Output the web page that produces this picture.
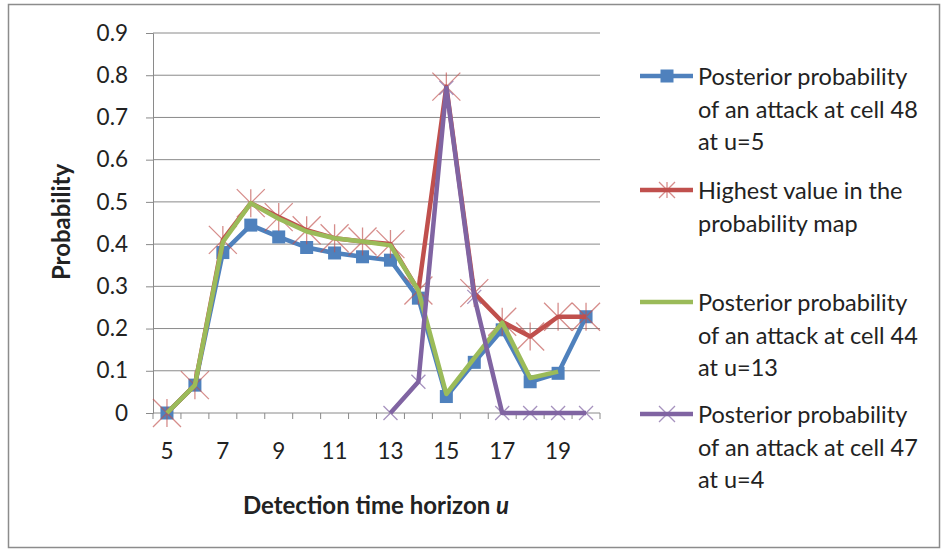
<!DOCTYPE html>
<html>
<head>
<meta charset="utf-8">
<script src="https://cdn.jsdelivr.net/npm/d3@7"></script>
<style>
  body { margin: 0; background: #fff; }
  text { font-family: Lato, "Open Sans", sans-serif; fill: #222; }
</style>
</head>
<body>
<div id="root"></div>
<script>
// Chart size
const width = 946;
const height = 552;
const margin = { top: 33, right: 346, bottom: 139, left: 153 };

// Data
const horizons = [5, 6, 7, 8, 9, 10, 11, 12, 13, 14, 15, 16, 17, 18, 19, 20];
const cell48 = [0, 0.066, 0.38, 0.445, 0.417, 0.392, 0.379, 0.37, 0.362, 0.272, 0.039, 0.12, 0.197, 0.074, 0.094, 0.228];
const highest = [0, 0.066, 0.41, 0.497, 0.464, 0.433, 0.414, 0.406, 0.40, 0.29, 0.773, 0.284, 0.216, 0.181, 0.228, 0.228];
const cell44 = [0, 0.066, 0.405, 0.497, 0.46, 0.43, 0.414, 0.406, 0.397, 0.29, 0.045, 0.13, 0.214, 0.083, 0.098, null];
const cell47 = [null, null, null, null, null, null, null, null, 0, 0.074, 0.77, 0.275, 0, 0, 0, 0];
const yTicks = [0, 0.1, 0.2, 0.3, 0.4, 0.5, 0.6, 0.7, 0.8, 0.9];
const xLabels = [5, 7, 9, 11, 13, 15, 17, 19];

const series = [
  { name: ["Posterior probability", "of an attack at cell 48", "at u=5"], values: cell48, color: "#4f81bd", marker: "square" },
  { name: ["Highest value in the", "probability map"], values: highest, color: "#c0504d", marker: "star" },
  { name: ["Posterior probability", "of an attack at cell 44", "at u=13"], values: cell44, color: "#9bbb59", marker: "none" },
  { name: ["Posterior probability", "of an attack at cell 47", "at u=4"], values: cell47, color: "#8064a2", marker: "cross" }
];

const svg = d3
  .select("#root")
  .append("svg")
  .attr("width", width)
  .attr("height", height);

// outer frame
svg
  .append("rect")
  .attr("x", 8.5)
  .attr("y", 4.5)
  .attr("width", 931)
  .attr("height", 543)
  .attr("fill", "#fff")
  .attr("stroke", "#8c8c8c")
  .attr("stroke-width", 1.5);

// Scales
const xScale = d3
  .scaleBand()
  .domain(horizons)
  .range([margin.left, width - margin.right])
  .padding(0);

const yScale = d3
  .scaleLinear()
  .domain([0, 0.9])
  .range([height - margin.bottom, margin.top]);

const xc = d => xScale(d) + xScale.bandwidth() / 2;

// Gridlines
svg
  .append("g")
  .selectAll("line")
  .data(yTicks.slice(1))
  .enter()
  .append("line")
  .attr("x1", margin.left)
  .attr("x2", width - margin.right)
  .attr("y1", d => yScale(d))
  .attr("y2", d => yScale(d))
  .attr("stroke", "#8a8a8a")
  .attr("stroke-width", 1);

// Y axis
const yAxis = d3
  .axisLeft(yScale)
  .tickValues(yTicks)
  .tickFormat(d => (d === 0 ? "0" : d3.format(".1f")(d)))
  .tickSize(7)
  .tickPadding(18);

const gy = svg
  .append("g")
  .attr("class", "y-axis")
  .attr("transform", "translate(" + margin.left + ",0)")
  .call(yAxis);
gy.select(".domain").attr("stroke", "#8a8a8a");
gy.selectAll(".tick line").attr("stroke", "#8a8a8a");
gy.selectAll("text").style("font-size", "22.5px").attr("fill", "#222");

// X axis: labels on every other category, ticks on category edges
const xAxis = d3
  .axisBottom(xScale)
  .tickValues(xLabels)
  .tickSize(0)
  .tickPadding(30);

const gx = svg
  .append("g")
  .attr("class", "x-axis")
  .attr("transform", "translate(0," + (height - margin.bottom) + ")")
  .call(xAxis);
gx.select(".domain").remove();
gx.selectAll("text").style("font-size", "22.5px").attr("fill", "#222");

const edges = horizons.map(d => xScale(d)).concat([xScale(horizons[horizons.length - 1]) + xScale.bandwidth()]);
gx.append("line")
  .attr("x1", margin.left)
  .attr("x2", width - margin.right)
  .attr("stroke", "#8a8a8a");
gx.selectAll(".edge")
  .data(edges)
  .enter()
  .append("line")
  .attr("class", "edge")
  .attr("x1", d => d)
  .attr("x2", d => d)
  .attr("y1", 0)
  .attr("y2", 6)
  .attr("stroke", "#8a8a8a");

// Axis titles
svg
  .append("text")
  .attr("transform", "translate(70," + 222 + ") rotate(-90)")
  .attr("text-anchor", "middle")
  .style("font-size", "24px")
  .style("font-weight", "bold")
  .text("Probability");

const xTitle = svg
  .append("text")
  .attr("x", 376)
  .attr("y", 514)
  .attr("text-anchor", "middle")
  .style("font-size", "24px")
  .style("font-weight", "bold");
xTitle.append("tspan").text("Detection time horizon ");
xTitle.append("tspan").style("font-style", "italic").text("u");

// Markers
function drawMarker(g, type, color, x, y, size) {
  if (type === "square") {
    g.append("rect")
      .attr("x", x - 6.5)
      .attr("y", y - 6.5)
      .attr("width", 13)
      .attr("height", 13)
      .attr("fill", color);
  } else if (type === "star") {
    const s = size || 14;
    const p = "M" + (x - s) + "," + (y - s) + "L" + (x + s) + "," + (y + s) +
      "M" + (x - s) + "," + (y + s) + "L" + (x + s) + "," + (y - s) +
      "M" + x + "," + (y - s) + "L" + x + "," + (y + s);
    g.append("path")
      .attr("d", p)
      .attr("stroke", color)
      .attr("stroke-opacity", 0.65)
      .attr("stroke-width", 1.3)
      .attr("fill", "none");
  } else if (type === "cross") {
    const s = size || 7;
    const p = "M" + (x - s) + "," + (y - s) + "L" + (x + s) + "," + (y + s) +
      "M" + (x - s) + "," + (y + s) + "L" + (x + s) + "," + (y - s);
    g.append("path")
      .attr("d", p)
      .attr("stroke", color)
      .attr("stroke-opacity", 0.7)
      .attr("stroke-width", 1.3)
      .attr("fill", "none");
  }
}

// Lines
const line = d3
  .line()
  .defined(d => d.v !== null)
  .x(d => xc(d.u))
  .y(d => yScale(d.v));

series.forEach(s => {
  const pts = horizons.map((u, i) => ({ u: u, v: s.values[i] }));
  const g = svg.append("g");
  g.append("path")
    .datum(pts)
    .attr("d", line)
    .attr("fill", "none")
    .attr("stroke", s.color)
    .attr("stroke-width", 4.5)
    .attr("stroke-linejoin", "round");
  pts.filter(d => d.v !== null).forEach(d => {
    drawMarker(g, s.marker, s.color, xc(d.u), yScale(d.v));
  });
});

// Legend
const legendTops = [76, 190, 302, 414];
const legend = svg.append("g").attr("class", "legend");
series.forEach((s, i) => {
  const y = legendTops[i];
  legend.append("line")
    .attr("x1", 640)
    .attr("x2", 693)
    .attr("y1", y)
    .attr("y2", y)
    .attr("stroke", s.color)
    .attr("stroke-width", 4.5);
  drawMarker(legend, s.marker, s.color, 667, y, 8);
  s.name.forEach((t, j) => {
    legend.append("text")
      .attr("x", 698)
      .attr("y", y + 9 + j * 32.5)
      .style("font-size", "23.5px")
      .text(t);
  });
});
</script>
</body>
</html>
